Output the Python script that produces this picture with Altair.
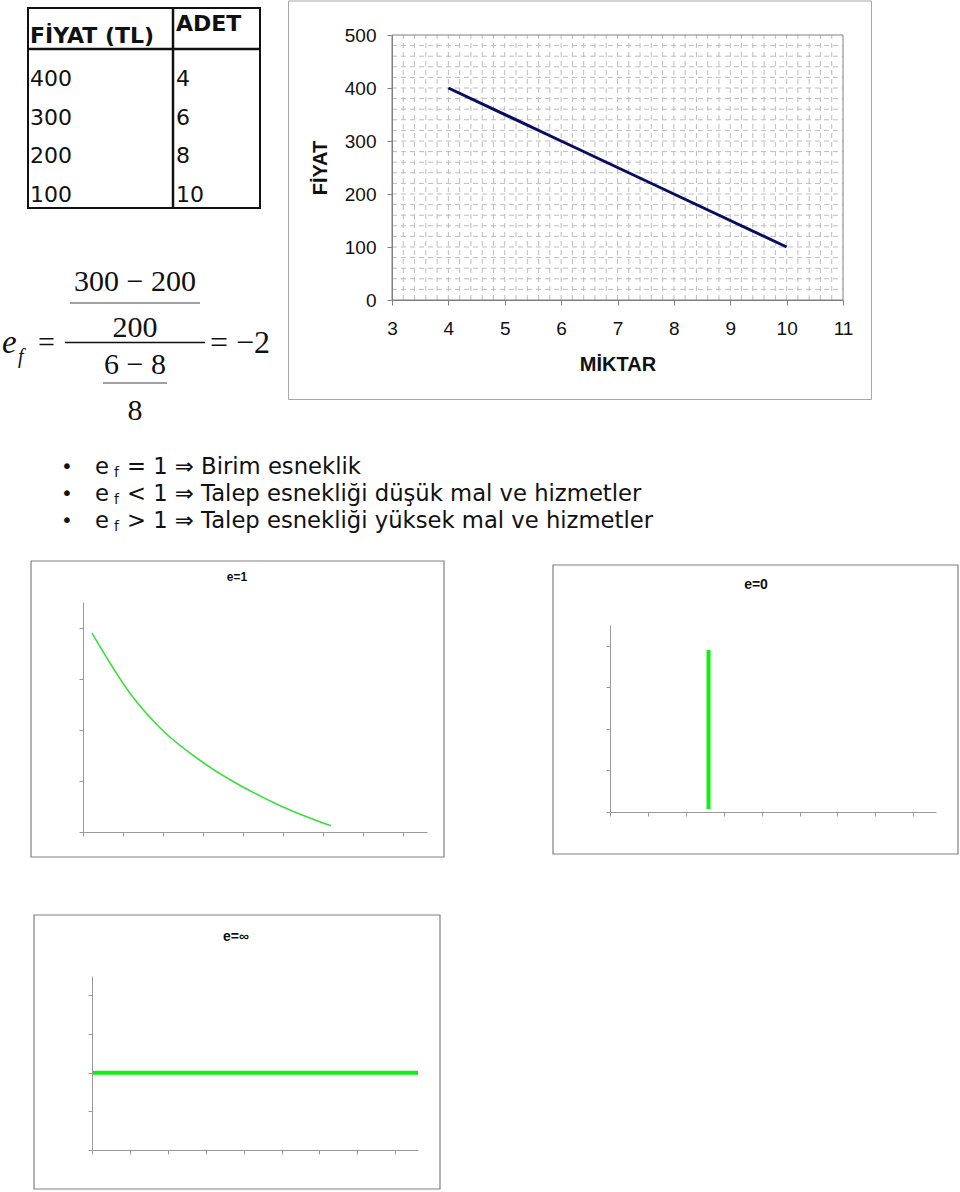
import altair as alt
import pandas as pd

# ---------------- data ----------------
TABLE_HEADERS = ["FİYAT (TL)", "ADET"]
FIYAT_TL = [400, 300, 200, 100]
ADET = [4, 6, 8, 10]

MIKTAR = [4, 6, 8, 10]
FIYAT = [400, 300, 200, 100]
MAIN_X_TICKS = [3, 4, 5, 6, 7, 8, 9, 10, 11]
MAIN_Y_TICKS = [0, 100, 200, 300, 400, 500]
MAIN_X_TITLE = "MİKTAR"
MAIN_Y_TITLE = "FİYAT"
MAIN_GRID_X = [round(3 + 0.2 * i, 1) for i in range(1, 40)]
MAIN_GRID_Y = [20 * i for i in range(1, 25)]

F_NUM_TOP = "300 − 200"
F_NUM_BOT = "200"
F_DEN_TOP = "6 − 8"
F_DEN_BOT = "8"
F_RESULT = "= −2"

BULLET_REL = ["= 1", "< 1", "> 1"]
BULLET_DESC = [
    "Birim esneklik",
    "Talep esnekliği düşük mal ve hizmetler",
    "Talep esnekliği yüksek mal ve hizmetler",
]

SMALL_TITLES = ["e=1", "e=0", "e=∞"]
E1_Q = [0.225, 1.17, 2.0, 3.0, 4.0, 5.0, 6.2]
E1_P = [3.89, 2.72, 1.98, 1.36, 0.88, 0.49, 0.12]
E0_Q = [2.6, 2.6]
E0_P = [0.07, 3.9]
EINF_Q = [0.0, 8.6]
EINF_P = [2.0, 2.0]
SMALL_X_TICKS = [0, 1, 2, 3, 4, 5, 6, 7, 8]
SMALL_Y_TICKS = [0, 1, 2, 3, 4]

ONE = pd.DataFrame({"k": [0]})
SANS = "Liberation Sans"
VERD = "DejaVu Sans"
SERIF = "Liberation Serif"


def rect_px(x0, x1, y0, y1, **kw):
    return alt.Chart(ONE).mark_rect(**kw).encode(
        x=alt.value(x0), x2=alt.value(x1), y=alt.value(y0), y2=alt.value(y1))


def rule_px(x0, x1, y0, y1, **kw):
    return alt.Chart(ONE).mark_rule(**kw).encode(
        x=alt.value(x0), x2=alt.value(x1), y=alt.value(y0), y2=alt.value(y1))


def text_px(s, x, y, **kw):
    return alt.Chart(ONE).mark_text(**kw).encode(
        x=alt.value(x), y=alt.value(y), text=alt.value(s))


# Every panel's plot area is its whole layout cell (origin at the cell's top-left);
# the data area inside it is set by explicit scale ranges.

# ---------------- left column (cell 0..288 x 0..430): table + formula ----------------
table_df = pd.DataFrame({
    "col": [TABLE_HEADERS[0]] * 4 + [TABLE_HEADERS[1]] * 4,
    "row": list(range(4)) * 2,
    "val": [str(v) for v in FIYAT_TL] + [str(v) for v in ADET],
})
table_text = alt.Chart(table_df).mark_text(
    align="left", baseline="middle", font=VERD, fontSize=22, color="#111"
).encode(
    x=alt.X("col:N", scale=alt.Scale(type="point", domain=TABLE_HEADERS, range=[30, 176], padding=0), axis=None),
    y=alt.Y("row:O", scale=alt.Scale(type="point", domain=[0, 1, 2, 3], range=[79.4, 195], padding=0), axis=None),
    text="val:N",
)

fs = 30
fstyle = dict(font=SERIF, fontSize=fs, color="#111", baseline="middle")
left = alt.layer(
    rect_px(28, 260, 8, 208, fill="transparent", stroke="#111", strokeWidth=2),
    rule_px(173, 173, 8, 208, color="#111", strokeWidth=2.5),
    rule_px(28, 260, 49, 49, color="#111", strokeWidth=2.5),
    text_px(TABLE_HEADERS[0], 30, 36, align="left", baseline="middle", font=VERD,
            fontSize=22, fontWeight="bold", color="#111"),
    text_px(TABLE_HEADERS[1], 176, 24, align="left", baseline="middle", font=VERD,
            fontSize=22, fontWeight="bold", color="#111"),
    table_text,
    text_px("e", 2, 343, align="left", fontStyle="italic", **{**fstyle, "fontSize": 33}),
    text_px("f", 18, 357, align="left", fontStyle="italic", **{**fstyle, "fontSize": 20}),
    text_px("=", 38, 343, align="left", **fstyle),
    text_px(F_NUM_TOP, 135, 282, align="center", **fstyle),
    rule_px(70, 200, 303, 303, color="#444", strokeWidth=1.2),
    text_px(F_NUM_BOT, 135, 328, align="center", **fstyle),
    rule_px(65, 205, 342.5, 342.5, color="#111", strokeWidth=1.5),
    text_px(F_DEN_TOP, 135, 365, align="center", **fstyle),
    rule_px(103, 167, 383, 383, color="#444", strokeWidth=1.2),
    text_px(F_DEN_BOT, 135, 411, align="center", **fstyle),
    text_px(F_RESULT, 210, 343, align="left", **{**fstyle, "fontSize": 32}),
).properties(width=288, height=430)

# ---------------- main chart (cell 288..960 x 0..430) ----------------
CW, CH = 672, 430
PX0, PX1, PY0, PY1 = 104, 555, 35, 300  # data area inside the cell
xs = alt.Scale(domain=[3, 11], range=[PX0, PX1], nice=False, zero=False)
ys = alt.Scale(domain=[0, 500], range=[PY1, PY0], nice=False, zero=False)
axis_common = dict(
    grid=False, domainColor="#808080", tickColor="#808080", tickSize=5, zindex=2,
    labelFont=SANS, labelFontSize=19, labelColor="#111", labelFlush=False,
    titleFont=SANS, titleFontSize=20, titleFontWeight="bold", titleColor="#111",
)
xa = alt.Axis(values=MAIN_X_TICKS, title=MAIN_X_TITLE, labelPadding=14, titlePadding=16,
              offset=PY1 - CH, **axis_common)
ya = alt.Axis(values=MAIN_Y_TICKS, title=MAIN_Y_TITLE, labelPadding=11, titlePadding=14,
              offset=-PX0, **axis_common)
main_df = pd.DataFrame({"MIKTAR": MIKTAR, "FIYAT": FIYAT})
grid_style = dict(color="#bdbdbd", strokeWidth=1, strokeDash=[5, 4])
main = alt.layer(
    rect_px(0.5, 583.5, 1, 399.5, fill="white", stroke="#a8a8a8", strokeWidth=1),
    alt.Chart(pd.DataFrame({"gx": MAIN_GRID_X})).mark_rule(**grid_style).encode(
        x=alt.X("gx:Q", scale=xs, axis=xa),
        y=alt.YDatum(0, type="quantitative", scale=ys, axis=ya),
        y2=alt.Y2Datum(500)),
    alt.Chart(pd.DataFrame({"gy": MAIN_GRID_Y})).mark_rule(**grid_style).encode(
        y=alt.Y("gy:Q", scale=ys, axis=ya),
        x=alt.XDatum(3, type="quantitative", scale=xs, axis=xa),
        x2=alt.X2Datum(11)),
    alt.Chart(ONE).mark_rect(fill="transparent", stroke="#808080", strokeWidth=1).encode(
        x=alt.XDatum(3, type="quantitative", scale=xs, axis=xa), x2=alt.X2Datum(11),
        y=alt.YDatum(0, type="quantitative", scale=ys, axis=ya), y2=alt.Y2Datum(500)),
    alt.Chart(main_df).mark_line(color="#0b0b60", strokeWidth=3).encode(
        x=alt.X("MIKTAR:Q", scale=xs, axis=xa),
        y=alt.Y("FIYAT:Q", scale=ys, axis=ya),
    ),
).properties(width=CW, height=CH)

# ---------------- bullets (cell 0..960 x 430..548) ----------------
bdf = pd.DataFrame({
    "row": [0, 1, 2],
    "line": [f"{r} ⇒ {d}" for r, d in zip(BULLET_REL, BULLET_DESC)],
})
ysb = alt.Scale(type="point", domain=[0, 1, 2], range=[36.5, 90.5], padding=0)
bbase = alt.Chart(bdf).encode(y=alt.Y("row:O", scale=ysb, axis=None))
BF = 22.7
bullets = alt.layer(
    bbase.mark_text(align="center", baseline="middle", font=VERD, fontSize=20, color="#111").encode(
        x=alt.value(67), text=alt.value("•")),
    bbase.mark_text(align="left", baseline="middle", font=VERD, fontSize=BF, color="#111").encode(
        x=alt.value(95), text=alt.value("e")),
    bbase.mark_text(align="left", baseline="middle", font=VERD, fontSize=14, dy=6, color="#111").encode(
        x=alt.value(114), text=alt.value("f")),
    bbase.mark_text(align="left", baseline="middle", font=VERD, fontSize=BF, color="#111").encode(
        x=alt.value(127), text="line:N"),
).properties(width=960, height=118)


# ---------------- small charts ----------------
def small_panel(q, p, title, cell_size, plot, frame, title_pos, title_size, mark):
    W, H = cell_size
    x0, x1, y0, y1 = plot
    sx = alt.Scale(domain=[0, 8.6], range=[x0, x1], nice=False, zero=False)
    sy = alt.Scale(domain=[0, 4.5], range=[y1, y0], nice=False, zero=False)
    ax = dict(labels=False, title=None, grid=False, domainColor="#9a9a9a", zindex=2,
              tickColor="#9a9a9a", tickSize=4, domainWidth=1, tickWidth=1)
    df = pd.DataFrame({"Q": q, "P": p})
    line = alt.Chart(df).mark_line(**mark).encode(
        x=alt.X("Q:Q", scale=sx, axis=alt.Axis(values=SMALL_X_TICKS, offset=y1 - H, **ax)),
        y=alt.Y("P:Q", scale=sy, axis=alt.Axis(values=SMALL_Y_TICKS, offset=-x0, **ax)),
    )
    return alt.layer(
        rect_px(frame[0], frame[1], frame[2], frame[3], fill="white", stroke="#808080", strokeWidth=1.2),
        text_px(title, title_pos[0], title_pos[1], align="center", baseline="middle",
                font=SANS, fontSize=title_size, fontWeight="bold", color="#111"),
        line,
    ).properties(width=W, height=H)


# cell 0..498 x 548..905
e1 = small_panel(E1_Q, E1_P, SMALL_TITLES[0], (498, 357), (83, 427, 54, 284),
                 (31, 444, 13, 309), (237, 29), 12,
                 dict(color="#3ddd3d", strokeWidth=1.6, interpolate="monotone"))
# cell 498..960 x 548..905
e0 = small_panel(E0_Q, E0_P, SMALL_TITLES[1], (462, 357), (112, 438, 77, 264),
                 (55, 460, 17, 306), (258, 37), 14,
                 dict(color="#11ee11", strokeWidth=4))
# cell 0..960 x 905..1192
einf = small_panel(EINF_Q, EINF_P, SMALL_TITLES[2], (960, 287), (92, 418, 71, 245),
                   (34, 440, 10, 284), (236, 32), 14,
                   dict(color="#11ee11", strokeWidth=4))

row1 = alt.concat(left, main, columns=2, spacing=0, align="none")
row3 = alt.concat(e1, e0, columns=2, spacing=0, align="none")
chart = alt.concat(row1, bullets, row3, einf, columns=1, spacing=0, align="none").properties(
    padding=0
).configure_view(strokeWidth=0)

chart.save("out.html", embed_options={"renderer": "svg", "actions": False})
